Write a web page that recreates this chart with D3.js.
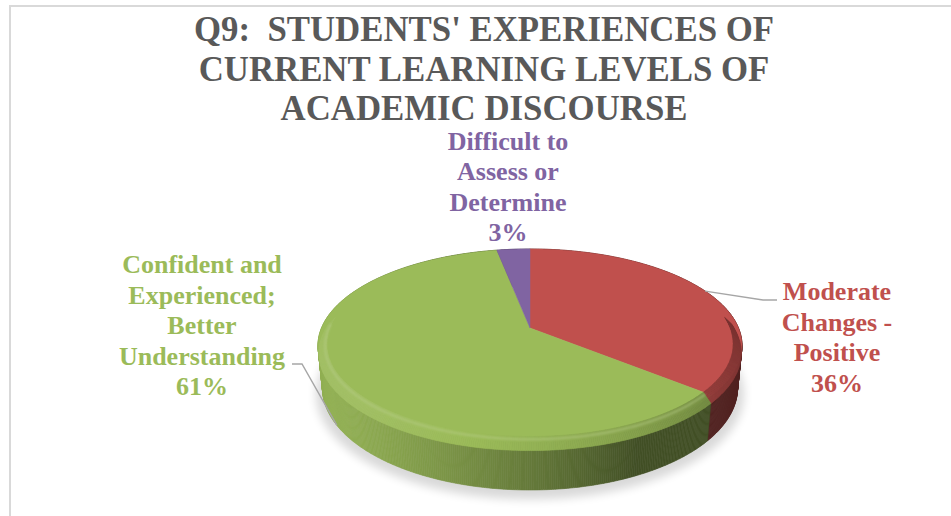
<!DOCTYPE html>
<html>
<head>
<meta charset="utf-8">
<script src="https://d3js.org/d3.v7.min.js"></script>
<style>
  html, body { margin: 0; padding: 0; background: #fff; }
  svg { display: block; }
  text { font-weight: bold; white-space: pre; }
</style>
</head>
<body>
<svg id="chart" width="951" height="516"></svg>
<script>
// ---- data ----
const titleLines = ["Q9:  STUDENTS' EXPERIENCES OF", "CURRENT LEARNING LEVELS OF", "ACADEMIC DISCOURSE"];
const categories = ["Moderate Changes - Positive", "Confident and Experienced; Better Understanding", "Difficult to Assess or Determine"];
const categoryLines = [["Moderate", "Changes -", "Positive"], ["Confident and", "Experienced;", "Better", "Understanding"], ["Difficult to", "Assess or", "Determine"]];
const values = [36, 61, 3];
const colors = ["#C0504D", "#9BBB59", "#8064A2"];

// pick the first installed Times-like serif face
function pickSerif(list) {
  const ctx = document.createElement("canvas").getContext("2d");
  const probe = "Qwertyuiop ASDFGHJKL 0123456789";
  for (const base of ["monospace", "sans-serif"]) {
    ctx.font = `bold 40px ${base}`;
    var ref = ctx.measureText(probe).width;
  }
  for (const name of list) {
    let ok = true;
    for (const base of ["monospace", "sans-serif"]) {
      ctx.font = `bold 40px ${base}`;
      const w0 = ctx.measureText(probe).width;
      ctx.font = `bold 40px "${name}", ${base}`;
      if (ctx.measureText(probe).width === w0) ok = false;
    }
    if (ok) return `"${name}", serif`;
  }
  return "serif";
}
const serifFamily = pickSerif(["Liberation Serif", "Tinos", "Times New Roman", "Nimbus Roman", "Nimbus Roman No9 L", "Times", "DejaVu Serif", "Noto Serif"]);

// ---- layout ----
const W = 951, H = 516;
const svg = d3.select("#chart").style("font-family", serifFamily);
const defs = svg.append("defs");
defs.append("filter").attr("id", "soft").attr("x", "-20%").attr("y", "-20%").attr("width", "140%").attr("height", "140%")
  .append("feGaussianBlur").attr("stdDeviation", 5);
defs.append("filter").attr("id", "glow").attr("x", "-10%").attr("y", "-10%").attr("width", "120%").attr("height", "120%")
  .append("feGaussianBlur").attr("stdDeviation", 1.3);

// chart frame
svg.append("path").attr("d", `M10,${H} L10,6 L${W},6`).attr("fill", "none").attr("stroke", "#d9d9d9").attr("stroke-width", 2);

// title
const titleG = svg.append("g").attr("fill", "#595959").attr("font-size", 34.8).attr("text-anchor", "middle");
titleLines.forEach((t, i) => titleG.append("text").attr("x", 484).attr("y", 41 + i * 39.5).text(t));

// ---- 3D pie projection ----
const cx = 530, cy = 328;              // screen position of the pie centre
const D = 4.94, F = 1030, TH = 0.229;  // camera distance, focal length, pie thickness (radius = 1)
const tilt = 26.6 * Math.PI / 180, st = Math.sin(tilt), ct = Math.cos(tilt);
function project(a, r, w) {
  const u = r * Math.sin(a), v = r * Math.cos(a);
  const depth = D + v * ct - w * st;
  return [cx + F * u / depth, cy - F * (v * st + w * ct) / depth];
}

const pie = d3.pie().sort(null).value(d => d)(values);
const total = d3.sum(values);
const pct = d3.format(".0%");

const lightDir = [-0.9, -0.44];
function dotLight(a) { return Math.sin(a) * lightDir[0] + Math.cos(a) * lightDir[1]; }
function shade(c, f) {
  const col = d3.rgb(c);
  if (f <= 1) return d3.rgb(col.r * f, col.g * f, col.b * f).formatHex();
  return d3.interpolateRgb(col, "#ffffff")(Math.min(1, f - 1));
}

// soft shadow under the pie
const shadowPts = d3.range(0, 361, 2).map(deg => {
  const p = project(deg * Math.PI / 180, 1.03, -TH);
  return [p[0], p[1] + 5];
});
svg.append("path").attr("d", d3.line()(shadowPts) + "Z").attr("fill", "#000").attr("opacity", 0.15).attr("filter", "url(#soft)");

// side wall segments, painted far to near
const step = 0.5 * Math.PI / 180;
const segs = [];
pie.forEach((s, i) => {
  for (let a = s.startAngle; a < s.endAngle - 1e-9; a += step) {
    const b = Math.min(a + step, s.endAngle);
    segs.push({ a, b, m: (a + b) / 2, i });
  }
});
segs.sort((p, q) => Math.cos(q.m) - Math.cos(p.m));
const sideG = svg.append("g");
segs.forEach(sg => {
  const f = 0.42 + 0.52 * Math.max(0, dotLight(sg.m));
  const col = shade(colors[sg.i], f);
  const pts = [project(sg.a, 1, 0), project(sg.b, 1, 0), project(sg.b, 1, -TH), project(sg.a, 1, -TH)];
  sideG.append("path").attr("d", d3.line()(pts) + "Z").attr("fill", col).attr("stroke", col).attr("stroke-width", 0.6);
});

// top faces
const faceG = svg.append("g");
pie.forEach((s, i) => {
  const pts = [project(0, 0, 0)];
  const n = Math.max(2, Math.ceil((s.endAngle - s.startAngle) / step));
  for (let k = 0; k <= n; k++) pts.push(project(s.startAngle + (s.endAngle - s.startAngle) * k / n, 1, 0));
  faceG.append("path").attr("d", d3.line()(pts) + "Z").attr("fill", colors[i]).attr("stroke", colors[i]).attr("stroke-width", 0.5);
});

// rounded bevel along the near rim
const bevelG = svg.append("g");
segs.filter(sg => Math.cos(sg.m) < 0.12).forEach(sg => {
  const d = dotLight(sg.m);
  const f = 0.86 + 0.22 * Math.max(0, d) - 0.25 * Math.max(0, -d);
  const col = shade(colors[sg.i], f);
  const pts = [project(sg.a, 0.96, 0), project(sg.b, 0.96, 0), project(sg.b, 1, -0.04), project(sg.a, 1, -0.04)];
  bevelG.append("path").attr("d", d3.line()(pts) + "Z").attr("fill", col).attr("stroke", col).attr("stroke-width", 0.6);
});
// soft highlight at the bevel edge
pie.forEach((s, i) => {
  const a0 = Math.max(s.startAngle, Math.PI * 0.72), a1 = Math.min(s.endAngle, Math.PI * 1.52);
  if (a1 <= a0) return;
  const pts = d3.range(a0, a1, step).concat([a1]).map(a => project(a, 0.968, -0.008));
  svg.append("path").attr("d", d3.line()(pts)).attr("fill", "none")
    .attr("stroke", shade(colors[i], 1.3)).attr("stroke-width", 2).attr("opacity", 0.55).attr("filter", "url(#glow)");
});

// ---- data labels ----
const labelLayout = [
  { x: 837, y: 300, lh: 30.5, leader: { w: 0, pts: [[763, 300], [777, 300]] } },
  { x: 202, y: 273, lh: 30.5, leader: { w: -TH, pts: [[302, 364], [292, 364]] } },
  { x: 508, y: 150, lh: 30.3, leader: null }
];
const labels = svg.append("g").attr("font-size", 26).attr("text-anchor", "middle");
pie.forEach((s, i) => {
  const L = labelLayout[i];
  if (L.leader) {
    const mid = (s.startAngle + s.endAngle) / 2;
    const pts = [project(mid, 1, L.leader.w)].concat(L.leader.pts);
    svg.append("path").attr("d", d3.line()(pts)).attr("fill", "none").attr("stroke", "#a6a6a6").attr("stroke-width", 1.4);
  }
  const lines = categoryLines[i].concat([pct(values[i] / total)]);
  const t = labels.append("text").attr("fill", colors[i]).attr("aria-label", categories[i]);
  lines.forEach((ln, k) => t.append("tspan").attr("x", L.x).attr("y", L.y + k * L.lh).text(ln));
});
</script>
</body>
</html>
